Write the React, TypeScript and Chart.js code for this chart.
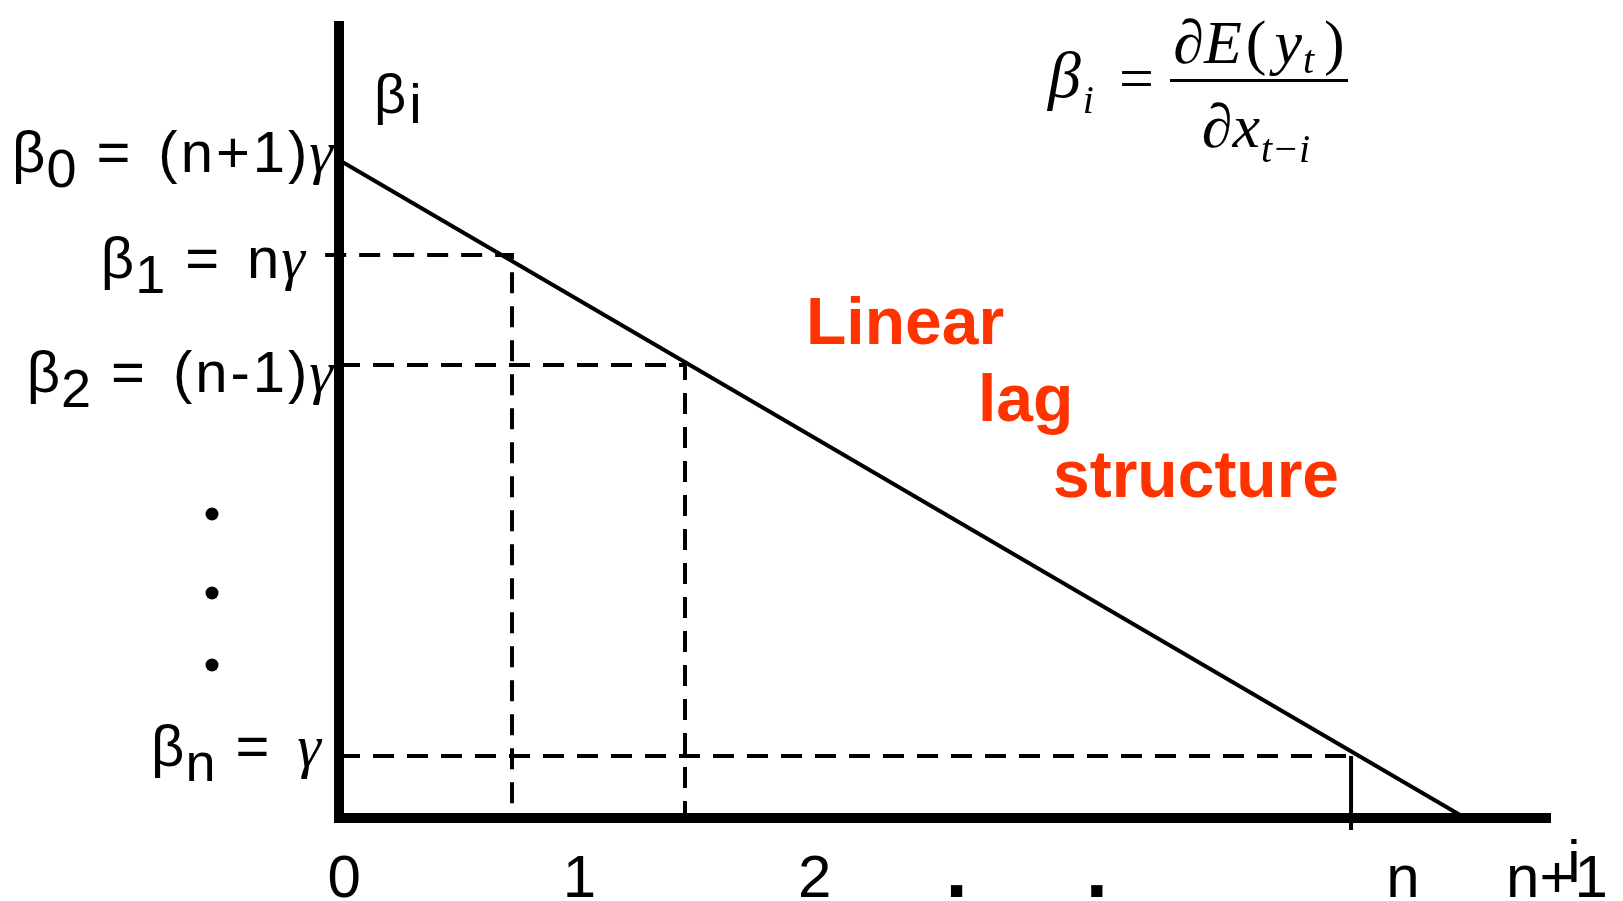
import React, { useEffect, useRef } from 'react';
import { Chart, registerables } from 'chart.js';

Chart.register(...registerables);

// ---- data (lag i on x, coefficient beta_i on y) ----
const lineLags = [0, 6.51];
const lineBetas = [6.58, 0];

const betaLevels = [6.58, 5.63, 4.53, 0.62]; // β0, β1, β2, βn
const betaSubs = ['0', '1', '2', 'n'];
const betaRhs = ['(n+1)', 'n', '(n-1)', ''];

const guideLags = [1, 2, 5.85];
const guideBetas = [5.63, 4.53, 0.62];
const guideStartLags = [-0.08, 0, 0];
const guideDashedDrop = [true, true, false];
const nTickBottom = -0.12;

const ellipsisLag = -0.734;
const ellipsisBetas = [3.04, 2.25, 1.53];

const xTickValues = [0.03, 1.39, 2.75, 3.57, 4.38, 6.15, 7.04];
const xTickLabels = ['0', '1', '2', '.', '.', 'n', 'n+1'];

const annotationWords = ['Linear', 'lag', 'structure'];

const SANS = '"Liberation Sans", Arial, sans-serif';
const SERIF = '"Liberation Serif", "Times New Roman", serif';

type Seg = { t: string; font: string; dy?: number; dx?: number; ls?: number };

function segWidth(ctx: CanvasRenderingContext2D, s: Seg) {
  ctx.font = s.font;
  if (!s.ls) return ctx.measureText(s.t).width;
  let w = 0;
  for (const ch of s.t) w += ctx.measureText(ch).width + s.ls;
  return w - s.ls;
}

function drawRich(ctx: CanvasRenderingContext2D, segs: Seg[], x: number, y: number, align: 'left' | 'right' | 'center') {
  let w = 0;
  for (const s of segs) w += segWidth(ctx, s) + (s.dx || 0);
  let cx = align === 'left' ? x : align === 'right' ? x - w : x - w / 2;
  ctx.textAlign = 'left';
  for (const s of segs) {
    ctx.font = s.font;
    cx += s.dx || 0;
    if (s.ls) {
      let px = cx;
      for (const ch of s.t) {
        ctx.fillText(ch, px, y + (s.dy || 0));
        px += ctx.measureText(ch).width + s.ls;
      }
    } else {
      ctx.fillText(s.t, cx, y + (s.dy || 0));
    }
    cx += segWidth(ctx, s);
  }
}

export default function App() {
  const ref = useRef<HTMLCanvasElement>(null);

  useEffect(() => {
    const canvas = ref.current;
    if (!canvas) return;

    const datasets: any[] = [];
    datasets.push({
      data: lineLags.map((x, k) => ({ x, y: lineBetas[k] })),
      showLine: true,
      borderColor: '#000',
      borderWidth: 4,
      pointRadius: 0,
      clip: false,
    });
    guideLags.forEach((g, k) => {
      const pts = [
        { x: guideStartLags[k], y: guideBetas[k] },
        { x: g, y: guideBetas[k] },
      ];
      if (guideDashedDrop[k]) pts.push({ x: g, y: 0 });
      datasets.push({
        data: pts,
        showLine: true,
        borderColor: '#000',
        borderWidth: 4,
        borderDash: [21, 13],
        borderCapStyle: 'butt',
        pointRadius: 0,
        clip: false,
      });
      if (!guideDashedDrop[k]) {
        datasets.push({
          data: [
            { x: g, y: guideBetas[k] },
            { x: g, y: nTickBottom },
          ],
          showLine: true,
          borderColor: '#000',
          borderWidth: 4,
          pointRadius: 0,
          clip: false,
        });
      }
    });

    const Y_LABEL_RIGHT = [333, 305, 333, 321];
    const Y_LABEL_DY = [12, 23, 27, 10];

    const textPlugin = {
      id: 'texts',
      afterDraw(chart: any) {
        const ctx: CanvasRenderingContext2D = chart.ctx;
        const xs = chart.scales.x;
        const ys = chart.scales.y;
        ctx.save();
        ctx.fillStyle = '#000';
        ctx.textBaseline = 'alphabetic';

        // vertical ellipsis dots (outside the plot area)
        ellipsisBetas.forEach((b) => {
          ctx.beginPath();
          ctx.arc(xs.getPixelForValue(ellipsisLag), ys.getPixelForValue(b), 6.5, 0, Math.PI * 2);
          ctx.fill();
        });

        // y level labels
        betaLevels.forEach((b, k) => {
          const py = ys.getPixelForValue(b) + Y_LABEL_DY[k];
          const segs: Seg[] = [
            { t: 'β', font: `58px ${SANS}` },
            { t: betaSubs[k], font: `54px ${SANS}`, dy: 15, dx: 1 },
            { t: '=', font: `58px ${SANS}`, dx: 20 },
          ];
          if (betaRhs[k]) segs.push({ t: betaRhs[k], font: `58px ${SANS}`, dx: 28, ls: 3 });
          segs.push({ t: 'γ', font: `italic 60px ${SERIF}`, dx: betaRhs[k] ? 2 : 28 });
          drawRich(ctx, segs, Y_LABEL_RIGHT[k], py, 'right');
        });

        // y axis title βi
        drawRich(ctx, [
          { t: 'β', font: `56px ${SANS}` },
          { t: 'i', font: `56px ${SANS}`, dy: 10, dx: 3 },
        ], 374, 113, 'left');

        // x tick labels
        ctx.textAlign = 'center';
        xTickValues.forEach((v, k) => {
          ctx.font = xTickLabels[k] === '.' ? `bold 80px ${SANS}` : `60px ${SANS}`;
          ctx.fillText(xTickLabels[k], xs.getPixelForValue(v), 897);
        });
        // x axis title i
        ctx.font = `60px ${SANS}`;
        ctx.fillText('i', 1574, 882);

        // formula
        drawRich(ctx, [
          { t: 'β', font: `italic 66px ${SERIF}` },
          { t: 'i', font: `italic 40px ${SERIF}`, dy: 16, dx: 2 },
        ], 1048, 97, 'left');
        ctx.textAlign = 'left';
        ctx.font = `62px ${SERIF}`;
        ctx.fillText('=', 1119, 99);
        ctx.fillRect(1170, 79, 178, 3);
        drawRich(ctx, [
          { t: '∂', font: `62px ${SERIF}` },
          { t: 'E', font: `italic 62px ${SERIF}` },
          { t: '(', font: `62px ${SERIF}`, dx: 4 },
          { t: 'y', font: `italic 62px ${SERIF}`, dx: 8 },
          { t: 't', font: `italic 40px ${SERIF}`, dy: 10, dx: 1 },
          { t: ')', font: `62px ${SERIF}`, dx: 10 },
        ], 1259, 63, 'center');
        drawRich(ctx, [
          { t: '∂', font: `62px ${SERIF}` },
          { t: 'x', font: `italic 62px ${SERIF}` },
          { t: 't−i', font: `italic 40px ${SERIF}`, dy: 15, dx: 1 },
        ], 1256, 147, 'center');

        // red annotation
        ctx.fillStyle = '#FF3300';
        ctx.font = `bold 66px ${SANS}`;
        ctx.textAlign = 'left';
        ctx.fillText(annotationWords[0], 806, 344);
        ctx.fillText(annotationWords[1], 978, 421);
        ctx.fillText(annotationWords[2], 1053, 497);
        ctx.restore();
      },
    };

    const chart = new Chart(canvas, {
      type: 'scatter',
      data: { datasets },
      options: {
        animation: false,
        responsive: false,
        events: [],
        layout: { padding: { left: 339, right: 73, top: 26, bottom: 83 } },
        plugins: { legend: { display: false }, tooltip: { enabled: false }, title: { display: false } },
        scales: {
          x: {
            type: 'linear',
            min: 0,
            max: 7,
            grid: { display: false, drawTicks: false },
            border: { display: true, width: 10, color: '#000' },
            ticks: { display: false },
          },
          y: {
            type: 'linear',
            min: 0,
            max: 7.92,
            grid: { display: false, drawTicks: false },
            border: { display: true, width: 10, color: '#000' },
            ticks: { display: false },
          },
        },
      },
      plugins: [textPlugin],
    });
    return () => chart.destroy();
  }, []);

  return (
    <div style={{ position: 'fixed', left: 0, top: 0, width: 1623, height: 901, background: '#fff' }}>
      <canvas ref={ref} width={1623} height={901} style={{ display: 'block' }} />
    </div>
  );
}
